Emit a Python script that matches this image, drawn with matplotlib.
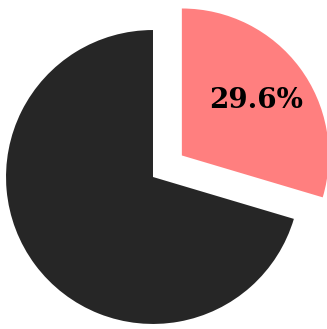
import matplotlib
matplotlib.use("Agg")
import matplotlib.pyplot as plt

labels = ["Share", "Rest"]
values = [29.6, 70.4]
colors = ["#FF7F7F", "#262626"]
explode = [0.245, 0.0]

fig = plt.figure(figsize=(3.27, 3.29), dpi=100)
ax = fig.add_axes([0, 0, 1, 1])
wedges, texts, autotexts = ax.pie(
    values, colors=colors, explode=explode, startangle=90, counterclock=False,
    autopct=lambda p: f"{p:.1f}%" if p < 50 else "", pctdistance=0.63,
    textprops=dict(fontsize=20, fontweight="bold", family="DejaVu Serif", color="black"),
)
ax.set_xlim(-1.041, 1.184)
ax.set_ylim(-1.034, 1.204)
ax.set_aspect("equal")
ax.axis("off")
fig.savefig("out.png", dpi=100)
